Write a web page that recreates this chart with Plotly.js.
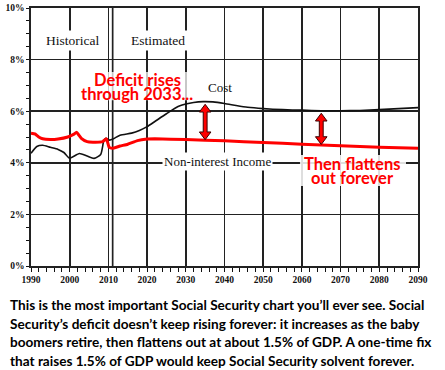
<!DOCTYPE html>
<html>
<head>
<meta charset="utf-8">
<script src="https://cdn.plot.ly/plotly-3.0.1.min.js"></script>
<style>html,body{margin:0;padding:0;background:#fff;}#chart{width:445px;height:370px;}</style>
</head>
<body>
<div id="chart"></div>
<script>
// ---- data ----
const costYears = [1990, 1991.5, 1993, 1995, 1997, 1998.5, 2000, 2002.5, 2004.5, 2006.3, 2008, 2008.8, 2009.3, 2010.3, 2011.3, 2013, 2016, 2018, 2020, 2022, 2025, 2028, 2030, 2032, 2034.5, 2037, 2040, 2043, 2046, 2050, 2055, 2060, 2065, 2070, 2075, 2080, 2085, 2090];
const costValues = [4.37, 4.63, 4.68, 4.6, 4.52, 4.4, 4.18, 4.36, 4.26, 4.17, 4.32, 4.85, 4.95, 4.88, 4.93, 5.07, 5.15, 5.25, 5.4, 5.6, 5.9, 6.18, 6.28, 6.34, 6.37, 6.36, 6.3, 6.22, 6.15, 6.1, 6.06, 6.04, 6.02, 6.02, 6.03, 6.06, 6.1, 6.14];
const incomeYears = [1990, 1991, 1992, 1993, 1995, 1997, 1999.5, 2001, 2001.8, 2003, 2004.5, 2006, 2008.5, 2009.5, 2010.2, 2011, 2013, 2015, 2017.5, 2020, 2022, 2030, 2040, 2050, 2060, 2070, 2080, 2090];
const incomeValues = [5.15, 5.12, 5.0, 4.93, 4.9, 4.92, 5.0, 5.1, 5.18, 4.95, 4.82, 4.8, 4.82, 4.93, 4.6, 4.56, 4.65, 4.72, 4.86, 4.92, 4.93, 4.9, 4.85, 4.79, 4.72, 4.66, 4.6, 4.56];
const arrowYears = [2035, 2065];
const yTicks = [0, 2, 4, 6, 8, 10];
const xTicks = [1990, 2000, 2010, 2020, 2030, 2040, 2050, 2060, 2070, 2080, 2090];
const captionLines = [
  "This is the most important Social Security chart you\u2019ll ever see. Social",
  "Security\u2019s deficit doesn\u2019t keep rising forever: it increases as the baby",
  "boomers retire, then flattens out at about 1.5% of GDP. A one-time fix",
  "that raises 1.5% of GDP would keep Social Security solvent forever."
];

function interp(xs, ys, x) {
  for (let i = 0; i < xs.length - 1; i++) {
    if (x >= xs[i] && x <= xs[i + 1]) {
      const t = (x - xs[i]) / (xs[i + 1] - xs[i]);
      return ys[i] + t * (ys[i + 1] - ys[i]);
    }
  }
  return ys[ys.length - 1];
}

function arrowPath(x, top, bot) {
  const hw = 1.5, sw = 0.5, hh = 0.3;
  const p = [[x, top], [x + hw, top - hh], [x + sw, top - hh], [x + sw, bot + hh], [x + hw, bot + hh], [x, bot],
             [x - hw, bot + hh], [x - sw, bot + hh], [x - sw, top - hh], [x - hw, top - hh]];
  return 'M' + p.map(q => q[0] + ',' + q[1]).join(' L') + ' Z';
}

const traces = [
  { x: costYears, y: costValues, type: 'scatter', mode: 'lines', line: { color: '#111', width: 1.6, shape: 'spline', smoothing: 0.6 }, hoverinfo: 'skip' },
  { x: incomeYears, y: incomeValues, type: 'scatter', mode: 'lines', line: { color: '#ff0000', width: 3, shape: 'spline', smoothing: 0.4 }, hoverinfo: 'skip' }
];

const gridC = '#222', gridW = 1.7;
const shapes = [
  { type: 'line', xref: 'x', yref: 'y', x0: 2011.1, x1: 2011.1, y0: 0, y1: 10, line: { color: gridC, width: gridW }, layer: 'below' },
  // translucent white panels behind the red call-out texts
  { type: 'rect', xref: 'x', yref: 'y', x0: 2003.7, x1: 2031.3, y0: 6.42, y1: 7.52, fillcolor: 'rgba(255,255,255,0.75)', line: { width: 0 }, layer: 'above' },
  { type: 'rect', xref: 'x', yref: 'y', x0: 2059.5, x1: 2086.9, y0: 3.1, y1: 4.3, fillcolor: 'rgba(255,255,255,0.85)', line: { width: 0 }, layer: 'above' }
];
arrowYears.forEach(yr => {
  const top = interp(costYears, costValues, yr) - 0.1;
  const bot = interp(incomeYears, incomeValues, yr) + 0.02;
  shapes.push({ type: 'path', xref: 'x', yref: 'y', path: arrowPath(yr, top, bot), fillcolor: '#ff0000', line: { color: '#3a0000', width: 1 }, layer: 'above' });
});

const serif = 'Liberation Serif, Times New Roman, serif';
const redFont = { family: 'Lato, Open Sans, sans-serif', size: 16.5, color: '#ff0000', weight: 'bold' };

const annotations = [
  { x: 2000.6, y: 8.73, xref: 'x', yref: 'y', text: 'Historical', showarrow: false, font: { family: serif, size: 13.5, color: '#111' }, bgcolor: '#fff', borderpad: 2 },
  { x: 2022.8, y: 8.73, xref: 'x', yref: 'y', text: 'Estimated', showarrow: false, font: { family: serif, size: 13.5, color: '#111' }, bgcolor: '#fff', borderpad: 2 },
  { x: 2038.8, y: 6.9, xref: 'x', yref: 'y', text: 'Cost', showarrow: false, font: { family: serif, size: 13, color: '#111' } },
  { x: 2038.1, y: 4.05, xref: 'x', yref: 'y', text: 'Non-interest Income', showarrow: false, font: { family: serif, size: 13, color: '#111' }, bgcolor: '#fff', borderpad: 1 },
  { x: 2017.4, y: 7.21, xref: 'x', yref: 'y', text: 'Deficit rises', showarrow: false, font: redFont },
  { x: 2017.5, y: 6.67, xref: 'x', yref: 'y', text: 'through 2033...', showarrow: false, font: redFont },
  { x: 2073.0, y: 3.95, xref: 'x', yref: 'y', text: 'Then flattens', showarrow: false, font: redFont },
  { x: 2073.0, y: 3.4, xref: 'x', yref: 'y', text: 'out forever', showarrow: false, font: redFont }
];
const capTop = [305, 323.5, 342, 360.5];
captionLines.forEach((t, i) => {
  annotations.push({ xref: 'paper', yref: 'paper', x: (8 - 31) / 387, y: (266 - capTop[i]) / 258, xanchor: 'left', yanchor: 'middle', text: t, showarrow: false,
    font: { family: 'Lato, Open Sans, sans-serif', size: 13.6, color: '#000', weight: 'bold' } });
});

const layout = {
  width: 445, height: 370,
  margin: { l: 31, r: 27, t: 8, b: 104 },
  paper_bgcolor: '#fff', plot_bgcolor: '#fff',
  showlegend: false,
  xaxis: {
    range: [1990, 2090], tickvals: xTicks, ticktext: xTicks.map(String),
    showgrid: true, gridcolor: gridC, gridwidth: gridW,
    showline: true, linecolor: gridC, linewidth: gridW, mirror: true,
    ticks: 'outside', ticklen: 4, tickcolor: '#111', tickwidth: 1,
    minor: { dtick: 2, tick0: 1990, ticks: 'outside', ticklen: 4, tickcolor: '#111', showgrid: false },
    tickfont: { family: serif, size: 9.5, color: '#111', weight: 'bold' },
    zeroline: false, fixedrange: true
  },
  yaxis: {
    range: [0, 10], tickvals: yTicks, ticktext: yTicks.map(v => v + '%'),
    showgrid: true, gridcolor: gridC, gridwidth: gridW,
    showline: true, linecolor: gridC, linewidth: gridW, mirror: true,
    ticks: 'outside', ticklen: 3, tickcolor: '#111', tickwidth: 1,
    minor: { dtick: 0.5, ticks: 'outside', ticklen: 3, tickcolor: '#111', showgrid: false },
    tickfont: { family: serif, size: 9.5, color: '#111', weight: 'bold' },
    zeroline: false, fixedrange: true
  },
  shapes: shapes,
  annotations: annotations
};

Plotly.newPlot('chart', traces, layout, { displayModeBar: false, staticPlot: true });
</script>
</body>
</html>
